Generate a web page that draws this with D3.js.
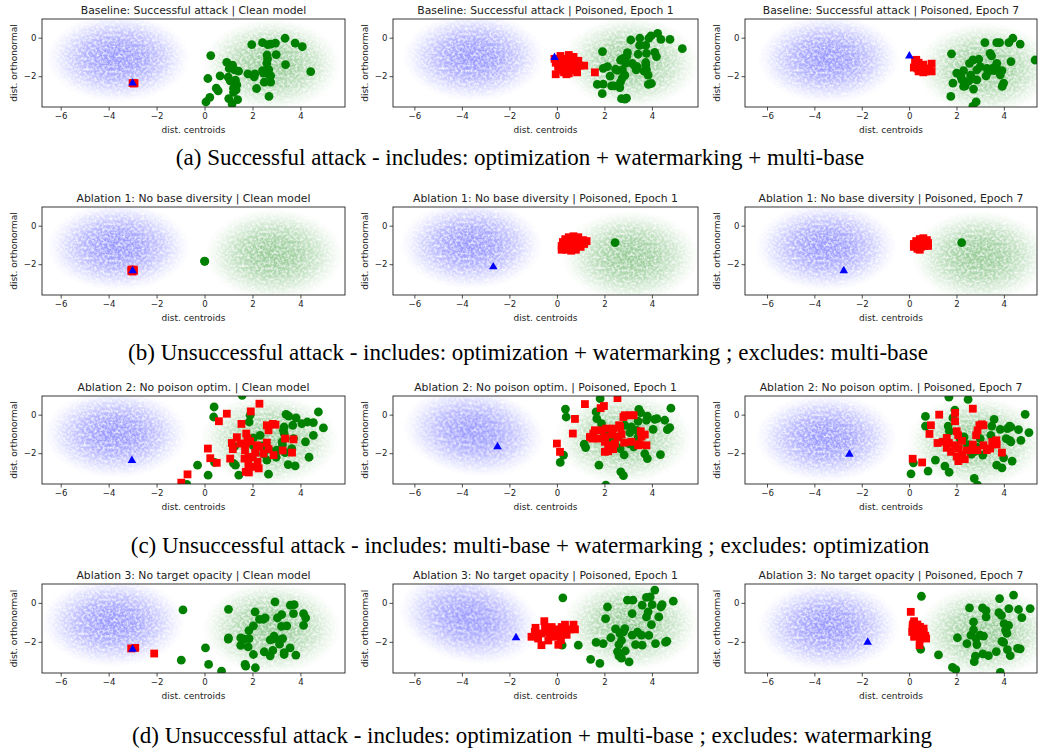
<!DOCTYPE html>
<html><head><meta charset="utf-8">
<script src="https://cdn.jsdelivr.net/npm/d3@7"></script>
<style>body{margin:0;background:#fff}</style>
</head><body><svg id="c" width="1039" height="748"></svg>
<script>
const panelTitles = [
 "Baseline: Successful attack | Clean model","Baseline: Successful attack | Poisoned, Epoch 1","Baseline: Successful attack | Poisoned, Epoch 7",
 "Ablation 1: No base diversity | Clean model","Ablation 1: No base diversity | Poisoned, Epoch 1","Ablation 1: No base diversity | Poisoned, Epoch 7",
 "Ablation 2: No poison optim. | Clean model","Ablation 2: No poison optim. | Poisoned, Epoch 1","Ablation 2: No poison optim. | Poisoned, Epoch 7",
 "Ablation 3: No target opacity | Clean model","Ablation 3: No target opacity | Poisoned, Epoch 1","Ablation 3: No target opacity | Poisoned, Epoch 7"];
const captions = [
 "(a) Successful attack - includes: optimization + watermarking + multi-base",
 "(b) Unsuccessful attack - includes: optimization + watermarking ; excludes: multi-base",
 "(c) Unsuccessful attack - includes: multi-base + watermarking ; excludes: optimization",
 "(d) Unsuccessful attack - includes: optimization + multi-base ; excludes: watermarking"];
const xTicks = [-6,-4,-2,0,2,4];
const yTicks = [-2,0];
const xLabel = "dist. centroids", yLabel = "dist. orthonormal";
const targets = [[-3.0,-2.36],[-0.1,-1.03],[0.01,-0.95],[-3.0,-2.34],[-2.68,-2.14],[-2.76,-2.34],[-3.03,-2.38],[-2.5,-1.67],[-2.52,-2.05],[-3.0,-2.38],[-1.72,-1.79],[-1.75,-2.02]];
// cloud: [cx, cy, rx, ry, angle]
const blueClouds = [[-3.6,-1.05,3.0,2.3,0],[-3.5,-1.0,3.0,2.3,0],[-3.4,-1.1,3.0,2.3,0],[-3.6,-1.1,3.0,2.3,0],[-3.6,-1.0,3.0,2.3,0],[-3.5,-1.1,3.0,2.3,0],[-3.7,-1.0,3.0,2.3,0],[-3.5,-0.9,3.0,2.3,8],[-3.5,-1.2,3.0,2.3,0],[-3.8,-1.0,3.0,2.3,0],[-3.7,-0.8,3.0,2.3,12],[-3.4,-1.2,3.0,2.3,0]];
const greenClouds = [[2.8,-1.4,2.9,2.4,0],[3.1,-1.3,2.9,2.4,0],[3.2,-1.6,2.9,2.4,0],[2.9,-1.5,2.9,2.4,0],[3.1,-1.6,2.9,2.4,0],[3.0,-1.6,2.9,2.4,0],[2.7,-1.3,2.9,2.4,0],[2.8,-1.2,2.9,2.4,0],[2.8,-1.4,2.9,2.4,0],[2.8,-1.3,2.9,2.4,0],[3.1,-1.1,2.9,2.4,0],[3.2,-1.5,2.9,2.4,0]];

const greenA1 = [[0.26,-0.93],[1.97,-0.36],[2.42,-0.26],[2.64,-0.36],[2.76,-0.33],[2.99,-0.88],[3.36,-0.03],[2.96,-0.28],[3.78,-0.28],[4.08,-0.47],[2.61,-0.9],[2.63,-1.1],[2.6,-1.33],[3.38,-1.4],[4.43,-1.76],[2.68,-1.66],[2.42,-1.71],[2.46,-1.84],[2.76,-1.98],[2.7,-1.95],[2.1,-1.88],[2.07,-2.03],[1.81,-1.88],[1.42,-1.74],[1.17,-1.43],[1.25,-1.67],[1.03,-1.6],[0.93,-1.28],[0.65,-1.98],[0.99,-2.05],[1.07,-2.24],[1.29,-2.21],[1.35,-2.45],[0.14,-2.12],[2.49,-2.31],[2.76,-2.31],[2.17,-2.64],[1.21,-2.62],[1.32,-2.71],[0.49,-2.62],[0.57,-2.76],[1.21,-2.84],[0.22,-3.1],[0.06,-3.34],[1.01,-3.16],[1.38,-3.22],[1.15,-3.45],[2.69,-3.05]];
const redA1 = [[-2.92,-2.36],[-3.0,-2.36],[-2.95,-2.38]];
const greenA2 = [[1.92,-0.72],[1.95,-2.41],[1.91,-2.91],[1.7,-2.43],[2.24,-2.0],[2.3,-2.5],[2.41,-2.5],[2.65,-2.59],[2.68,-2.29],[2.75,-2.1],[2.86,-1.95],[2.76,-1.67],[2.47,-1.64],[2.55,-1.7],[2.13,-1.5],[1.95,-1.59],[2.68,-1.16],[2.79,-1.07],[2.97,-0.78],[2.94,-0.96],[2.89,-1.33],[3.17,-1.34],[3.28,-1.47],[3.34,-1.67],[3.37,-1.5],[3.42,-0.86],[3.48,-0.4],[3.74,-0.4],[3.77,-0.81],[3.74,-1.29],[3.74,-1.43],[3.77,-1.67],[3.67,-1.74],[3.84,-1.95],[3.85,-2.43],[3.98,-2.38],[3.87,-0.03],[3.96,0.09],[4.24,0.22],[4.38,-0.09],[4.76,-0.09],[5.28,-0.57],[4.12,-0.76],[4.19,-0.98],[2.72,-3.17],[2.86,-3.19],[2.93,-3.14],[3.49,-0.03],[3.11,-0.12]];
const redA2 = [[-0.1,-1.1],[-0.05,-1.3],[0.05,-1.5],[-0.05,-1.9],[0.1,-1.7],[0.15,-0.95],[0.2,-1.25],[0.25,-1.5],[0.3,-1.8],[0.35,-1.1],[0.4,-1.35],[0.45,-1.6],[0.5,-0.9],[0.5,-1.85],[0.55,-1.2],[0.6,-1.45],[0.65,-1.7],[0.7,-1.0],[0.75,-1.3],[0.8,-1.55],[0.85,-1.8],[0.9,-1.2],[0.95,-1.45],[1.15,-1.45],[1.6,-1.8],[0.3,-1.6],[0.15,-1.4],[0.05,-1.2],[0.65,-1.15],[0.4,-1.9],[0.75,-1.65]];
const greenA3 = [[1.79,-0.84],[1.85,-2.36],[1.76,-3.05],[2.01,-1.84],[2.2,-2.05],[2.23,-2.19],[2.3,-1.71],[2.37,-2.5],[2.51,-2.26],[2.6,-1.95],[2.66,-2.14],[2.72,-2.67],[2.83,-3.33],[2.69,-3.57],[2.55,-1.33],[2.69,-1.16],[2.86,-1.67],[2.94,-1.12],[3.2,-0.26],[3.28,-1.59],[3.25,-1.98],[3.42,-0.81],[3.48,-0.95],[3.51,-1.59],[3.59,-1.71],[3.68,-1.5],[3.7,-0.26],[3.82,-0.26],[3.92,-1.71],[3.93,-2.53],[3.99,-2.36],[3.85,-1.93],[4.21,-0.26],[4.38,-0.03],[4.69,-0.33],[4.3,-1.24],[5.32,-1.16],[3.7,-1.33],[3.35,-1.76],[3.0,-1.5],[2.86,-2.19],[2.3,-2.53]];
const redA3 = [[0.25,-1.2],[0.3,-1.4],[0.2,-1.55],[0.35,-1.6],[0.4,-1.3],[0.45,-1.5],[0.5,-1.7],[0.55,-1.55],[0.4,-1.75],[0.6,-1.8],[0.65,-1.65],[0.7,-1.75],[0.75,-1.6],[0.3,-1.15],[0.5,-1.45],[0.95,-1.35],[0.95,-1.75],[0.85,-1.7],[0.6,-1.4],[0.35,-1.5]];
const greenB1 = [[0,-1.84],[0.01,-1.85]];
const redB1 = [[-3.05,-2.28],[-2.95,-2.28],[-3.0,-2.38],[-2.95,-2.35],[-3.05,-2.36]];
const greenB2 = [[2.45,-0.88]];
const redB2 = [[0.2,-1.05],[0.2,-1.25],[0.25,-0.85],[0.35,-0.7],[0.4,-1.0],[0.4,-1.25],[0.5,-0.6],[0.55,-0.85],[0.6,-1.1],[0.6,-1.3],[0.7,-0.55],[0.75,-0.75],[0.8,-1.0],[0.8,-1.25],[0.9,-0.6],[0.95,-0.85],[1.0,-1.1],[1.1,-0.75],[1.15,-0.95],[1.25,-0.8],[0.3,-1.15],[0.5,-0.95],[0.7,-0.9],[0.9,-1.0],[0.65,-0.65]];
const greenB3 = [[2.22,-0.88]];
const redB3 = [[0.2,-0.95],[0.2,-1.1],[0.3,-0.8],[0.35,-1.0],[0.35,-1.2],[0.45,-0.7],[0.5,-0.9],[0.5,-1.1],[0.45,-1.25],[0.6,-0.65],[0.65,-0.85],[0.65,-1.05],[0.75,-0.75],[0.8,-0.9],[0.8,-1.05],[0.55,-1.0],[0.4,-0.85]];
const greenC1 = [[0.4,0.4],[0.38,-0.12],[1.9,-0.03],[1.86,-0.38],[1.57,1.0],[3.4,0.02],[3.51,-0.07],[3.82,-0.17],[4.75,0.14],[4.96,-0.69],[4.54,-0.41],[4.29,-0.38],[4.06,-0.47],[3.68,-0.55],[3.32,-0.64],[3.29,-0.81],[3.32,-0.98],[4.54,-1.07],[4.21,-1.41],[3.71,-1.24],[3.24,-1.41],[2.32,-1.07],[2.04,-1.21],[1.9,-1.38],[2.04,-1.62],[2.18,-1.67],[2.39,-1.62],[2.63,-1.76],[2.46,-2.03],[2.68,-1.79],[3.01,-1.84],[2.6,-2.36],[2.99,-2.21],[3.36,-1.97],[3.64,-1.76],[3.49,-2.59],[3.78,-2.66],[4.36,-2.21],[1.25,-1.66],[1.21,-2.53],[1.29,-2.62],[0.42,-2.48],[-0.29,-2.62],[0.15,-3.14],[1.43,-3.14],[2.67,-3.09],[-0.74,-3.62],[3.25,-1.55]];
const redC1 = [[2.29,0.57],[1.93,0.17],[0.93,0.05],[0.6,-0.34],[1.54,-0.48],[2.6,-0.55],[2.85,-0.48],[2.96,-0.52],[2.67,-0.81],[1.74,-0.98],[1.35,-1.17],[1.79,-1.24],[1.9,-1.38],[1.72,-1.5],[1.49,-1.5],[1.14,-1.47],[2.18,-1.59],[2.29,-1.67],[2.6,-1.45],[2.67,-1.79],[3.36,-1.24],[3.71,-1.28],[3.26,-1.86],[3.65,-1.97],[2.88,-2.1],[1.67,-2.28],[1.83,-2.19],[2.01,-2.22],[1.07,-2.28],[1.18,-1.79],[2.04,-2.71],[2.26,-2.79],[1.83,-2.59],[2.21,-2.45],[1.72,-2.97],[1.85,-3.0],[0.51,-2.5],[0.24,-2.26],[0.14,-1.76],[-0.71,-3.1],[-0.97,-3.53],[2.11,-1.98],[1.69,-1.84],[2.46,-2.02]];
const greenC2 = [[0.36,0.29],[0.39,-0.12],[1.15,-1.53],[1.21,-1.71],[0.28,-2.1],[0.14,-2.48],[1.77,-2.62],[1.82,0.83],[1.68,-0.21],[1.65,0.14],[1.88,-0.47],[1.99,-0.93],[2.19,-1.0],[2.36,-1.17],[2.58,-1.17],[2.29,-1.4],[2.47,-1.59],[2.66,-1.76],[2.83,-2.09],[2.69,-2.97],[2.8,-3.17],[2.06,-3.66],[3.03,-1.5],[3.14,-0.64],[3.37,-0.81],[3.45,0.28],[3.53,0.1],[3.42,-0.34],[3.81,-0.07],[3.77,-0.29],[4.05,-0.76],[4.12,-0.24],[4.21,-0.21],[4.54,-0.29],[4.65,-0.78],[4.75,-0.67],[4.8,0.34],[3.7,-2.03],[3.81,-2.28],[4.36,-2.07],[3.42,-1.16],[3.23,-1.67],[2.86,-0.55],[3.07,-0.93]];
const redC2 = [[0,-1.5],[0.13,-1.93],[0.67,-0.98],[0.76,-0.22],[1.18,0.55],[1.84,0.34],[1.98,0.45],[2.55,0.86],[2.86,-0.03],[3.08,-0.03],[3.23,-0.03],[2.8,-0.12],[2.62,-0.55],[2.66,-0.64],[2.38,-0.72],[2.08,-0.72],[1.88,-0.81],[1.6,-0.81],[1.53,-0.98],[1.39,-1.16],[1.49,-1.24],[1.74,-1.24],[2.02,-1.16],[2.33,-1.03],[2.55,-1.16],[2.72,-1.03],[2.16,-1.59],[2.02,-1.41],[2.44,-1.5],[2.3,-1.67],[2.02,-1.93],[2.16,-1.9],[2.37,-1.79],[2.83,-1.45],[3.14,-1.41],[3.53,-0.86],[3.7,-1.03],[3.56,-1.14],[3.48,-1.53],[3.77,-1.59],[3.42,-1.59]];
const greenC3 = [[0.69,-0.09],[0.69,-0.59],[0.18,-2.5],[0.08,-3.07],[0.8,-2.93],[1.11,-2.36],[1.51,-2.67],[1.69,-2.99],[1.68,0.91],[2.49,0.79],[1.93,0.24],[1.85,-0.17],[1.65,-0.59],[1.7,-0.86],[2.15,-1.24],[2.32,-1.16],[2.46,-1.55],[2.55,-1.67],[2.75,-1.88],[2.86,-1.69],[2.63,-2.05],[3.11,-2.1],[2.75,-3.31],[2.89,-3.66],[3.59,-0.24],[3.49,-0.59],[3.45,-1.07],[3.85,-0.76],[4.15,-0.72],[4.24,-0.59],[4.3,-0.64],[4.62,-0.78],[4.9,0.02],[5.06,-0.93],[4.72,-1.33],[4.24,-1.34],[4.1,-1.24],[4.3,-1.41],[3.99,-2.24],[3.7,-2.62],[3.92,-2.76],[4.35,-2.41],[3.0,-1.24],[2.79,-1.9]];
const redC3 = [[0.15,-2.29],[0.55,-2.48],[0.86,-1.0],[0.92,-0.55],[1.27,0],[1.94,0.09],[2.69,0.31],[1.94,-0.34],[2.01,-0.86],[2.07,-1.07],[1.59,-1.21],[1.42,-1.41],[1.2,-1.47],[1.68,-1.47],[1.59,-1.72],[1.93,-1.59],[2.1,-1.76],[1.77,-1.93],[2.01,-2.17],[2.08,-2.41],[2.35,-2.31],[2.24,-2.1],[2.44,-1.86],[2.23,-1.36],[2.69,-1.55],[2.66,-1.84],[2.89,-1.84],[2.83,-1.07],[2.89,-0.81],[3.07,-0.5],[2.97,-0.55],[3.14,-0.55],[3.51,-1.41],[3.68,-1.33],[3.7,-1.55],[3.42,-1.76],[3.28,-1.84],[3.92,-1.97],[3.14,-1.59]];
const greenD1 = [[-0.9,-0.36],[-0.97,-2.94],[0.04,-2.31],[0.17,-3.16],[0.71,-3.5],[1.0,-0.33],[1.0,-1.8],[0.99,-1.86],[1.51,-1.8],[1.51,-2.18],[1.65,-1.86],[1.82,-2.26],[1.86,-1.83],[1.69,-3.16],[1.72,-3.25],[2.04,-2.65],[2.12,-3.33],[1.85,-1.42],[2.04,-1.18],[2.11,-0.46],[2.29,-0.85],[2.46,-0.84],[2.53,-0.77],[2.49,-2.51],[2.74,-2.72],[2.85,-2.44],[2.74,-1.9],[2.9,-1.71],[2.85,-1.86],[3.15,-1.9],[3.13,-2.12],[3.32,-2.55],[3.32,-2.65],[3.26,-1.83],[3.21,-1.21],[3.22,-0.6],[3.04,-0.77],[2.94,0.05],[3.43,-1.18],[3.58,-0.12],[3.74,-0.09],[3.71,-0.55],[3.57,-2.31],[3.81,-2.68],[4.13,-0.55],[4.22,-0.77],[4.13,-1.15]];
const redD1 = [[-3.06,-2.34],[-2.89,-2.31],[-2.1,-2.6]];
const greenD2 = [[0.25,0.26],[0.22,-2.17],[0.9,-2.17],[1.42,-2.9],[1.81,-3.11],[1.65,-2.03],[1.95,-2.09],[2.05,-0.81],[2.13,-0.21],[2.27,-1.79],[2.47,-1.33],[2.55,-2.5],[2.61,-2.72],[2.72,-2.84],[2.61,-2.14],[2.72,-1.93],[2.8,-1.49],[2.86,-1.32],[2.65,-1.57],[2.88,-2.47],[3.04,-3.03],[2.97,0.14],[3.2,0.14],[3.17,-0.55],[3.17,-1.66],[3.31,-2.14],[3.39,-1.5],[3.56,-1.66],[3.59,-2.17],[3.59,-0.12],[3.77,0.28],[3.93,0.31],[4.12,0.66],[4.01,-0.09],[3.84,-0.46],[3.77,-0.72],[3.98,-1.12],[3.87,-1.67],[4.15,-2.09],[4.29,-0.72],[4.38,-0.21],[4.43,-0.09],[4.57,-2.02],[4.63,-1.97],[4.9,0.09]];
const redD2 = [[-1.07,-1.74],[-0.9,-1.28],[-0.65,-2.17],[-0.53,-0.94],[-0.43,-1.5],[-0.36,-1.93],[-0.22,-1.24],[-0.15,-1.49],[-0.06,-1.36],[0.06,-2.15],[0.08,-1.67],[0.2,-1.24],[0.22,-1.49],[0.34,-1.12],[0.41,-1.64],[0.55,-1.36],[0.7,-1.12],[0.76,-1.36],[-0.65,-1.57],[-0.79,-1.83],[-0.29,-1.66],[-0.06,-1.74],[-0.5,-1.32],[0.34,-1.35],[0.17,-1.91],[-0.93,-1.49]];
const greenD3 = [[0.52,0.34],[0.49,-2.38],[1.24,-2.67],[1.83,-3.31],[1.97,-3.43],[2.04,-1.79],[2.44,-2.09],[2.55,-0.26],[2.72,-0.98],[2.72,-1.38],[2.75,-3.02],[2.8,-2.74],[2.61,-1.66],[2.83,-1.83],[2.86,-2.14],[3.0,-1.66],[3.1,-0.26],[3.25,-0.4],[3.25,-0.72],[3.14,-1.71],[3.11,-2.62],[3.35,-2.71],[3.68,-2.5],[3.82,0.22],[3.79,-0.5],[3.9,-0.64],[4.01,-1.07],[4.07,-1.41],[4.13,-1.57],[3.92,-1.98],[3.99,-2.03],[4.15,-2.4],[4.27,-2.71],[4.21,-0.29],[4.41,0.4],[4.62,-0.34],[4.76,-0.76],[4.69,-2.36],[4.58,-2.34],[5.11,-0.29],[3.85,-3.57],[4.2,-1.15]];
const redD3 = [[0.07,-0.46],[0.21,-0.94],[0.15,-1.15],[0.25,-1.32],[0.13,-1.49],[0.32,-1.4],[0.46,-1.23],[0.61,-1.32],[0.68,-1.69],[0.72,-1.83],[0.55,-1.66],[0.32,-1.66],[0.46,-1.83],[0.21,-1.74],[0.44,-2.17],[0.18,-1.06],[0.35,-1.11],[0.61,-1.49],[0.15,-1.32],[0.38,-1.49]];

const greens = [greenA1,greenA2,greenA3,greenB1,greenB2,greenB3,greenC1,greenC2,greenC3,greenD1,greenD2,greenD3];
const reds = [redA1,redA2,redA3,redB1,redB2,redB3,redC1,redC2,redC3,redD1,redD2,redD3];

// layout
const colL = [42,393,745], colR = [345,698,1037];
const xDom = [[-6.78,5.86],[-6.9,5.94],[-6.93,5.4]];
const rowT = [19,207,396,584], rowB = [107,295,484,673];
const yDom = [-3.6,0.97];
const capY = [165,360,553,743];
const capX = [520,528,530,532];
const FONT = "DejaVu Sans";

const svg = d3.select("#c");
const defs = svg.append("defs");
function grad(id,color,op){
  const g = defs.append("radialGradient").attr("id",id);
  [[0,1],[0.25,0.93],[0.45,0.74],[0.65,0.46],[0.82,0.2],[0.93,0.06],[1,0]].forEach(([o,v])=>{
    g.append("stop").attr("offset",o).attr("stop-color",color).attr("stop-opacity",op*v);
  });
}
grad("gb","#0000ff",0.4);
grad("gg","#008000",0.4);
// grain texture for the dense point clouds
const f = defs.append("filter").attr("id","grain").attr("x","-5%").attr("y","-5%").attr("width","110%").attr("height","110%");
f.append("feTurbulence").attr("type","fractalNoise").attr("baseFrequency",0.38).attr("numOctaves",2).attr("seed",7).attr("result","n");
f.append("feColorMatrix").attr("in","n").attr("type","matrix")
  .attr("values","0 0 0 0 0  0 0 0 0 0  0 0 0 0 0  1.9 0 0 0 -0.2").attr("result","m");
f.append("feComposite").attr("in","SourceGraphic").attr("in2","m").attr("operator","in");

for(let i=0;i<12;i++){
  const r = Math.floor(i/3), c = i%3;
  const x = d3.scaleLinear().domain(xDom[c]).range([colL[c],colR[c]]);
  const y = d3.scaleLinear().domain(yDom).range([rowB[r],rowT[r]]);
  const g = svg.append("g");
  const cid = "clip"+i;
  defs.append("clipPath").attr("id",cid).append("rect")
    .attr("x",colL[c]).attr("y",rowT[r]).attr("width",colR[c]-colL[c]).attr("height",rowB[r]-rowT[r]);
  const pg = g.append("g").attr("clip-path",`url(#${cid})`);
  const kx = (x(1)-x(0)), ky = (y(0)-y(1));
  [[blueClouds[i],"gb"],[greenClouds[i],"gg"]].forEach(([cl,gid])=>{
    pg.append("ellipse").attr("cx",0).attr("cy",0).attr("rx",cl[2]*kx).attr("ry",cl[3]*ky)
      .attr("transform",`translate(${x(cl[0])},${y(cl[1])}) rotate(${cl[4]})`)
      .attr("fill",`url(#${gid})`).attr("filter","url(#grain)");
  });
  pg.selectAll("circle.g").data(greens[i]).join("circle").attr("class","g")
    .attr("cx",d=>x(d[0])).attr("cy",d=>y(d[1])).attr("r",4.4).attr("fill","#008000");
  const s=7.8;
  pg.selectAll("rect.r").data(reds[i]).join("rect").attr("class","r")
    .attr("x",d=>x(d[0])-s/2).attr("y",d=>y(d[1])-s/2).attr("width",s).attr("height",s).attr("fill","#ff0000");
  pg.append("path").attr("d",d3.symbol(d3.symbolTriangle,32)())
    .attr("transform",`translate(${x(targets[i][0])},${y(targets[i][1])})`).attr("fill","#0000ff");

  // axes
  const ax = g.append("g").attr("transform",`translate(0,${rowB[r]})`)
    .call(d3.axisBottom(x).tickValues(xTicks).tickSize(3.5).tickPadding(2).tickFormat(d=>d<0?"\u2212"+(-d):d));
  const ay = g.append("g").attr("transform",`translate(${colL[c]},0)`)
    .call(d3.axisLeft(y).tickValues(yTicks).tickSize(3.5).tickPadding(2).tickFormat(d=>d<0?"\u2212"+(-d):d));
  [ax,ay].forEach(a=>{
    a.select(".domain").remove();
    a.selectAll("line").attr("stroke","#222").attr("stroke-width",0.8);
    a.selectAll("text").attr("font-family",FONT).attr("font-size",8.6).attr("fill","#222");
  });
  g.append("rect").attr("x",colL[c]).attr("y",rowT[r]).attr("width",colR[c]-colL[c]).attr("height",rowB[r]-rowT[r])
    .attr("fill","none").attr("stroke","#222").attr("stroke-width",0.9);
  g.append("text").attr("x",(colL[c]+colR[c])/2).attr("y",rowT[r]-5).attr("text-anchor","middle")
    .attr("font-family",FONT).attr("font-size",10.8).attr("fill","#222").text(panelTitles[i]);
  g.append("text").attr("x",(colL[c]+colR[c])/2).attr("y",rowB[r]+26).attr("text-anchor","middle")
    .attr("font-family",FONT).attr("font-size",9).attr("fill","#222").text(xLabel);
  g.append("text").attr("transform",`translate(${colL[c]-25},${(rowT[r]+rowB[r])/2}) rotate(-90)`).attr("text-anchor","middle")
    .attr("font-family",FONT).attr("font-size",9).attr("fill","#222").text(yLabel);
}
captions.forEach((t,k)=>{
  svg.append("text").attr("x",capX[k]).attr("y",capY[k]).attr("text-anchor","middle")
    .attr("font-family","Liberation Serif").attr("font-size",23).attr("fill","#000").text(t);
});
</script></body></html>
